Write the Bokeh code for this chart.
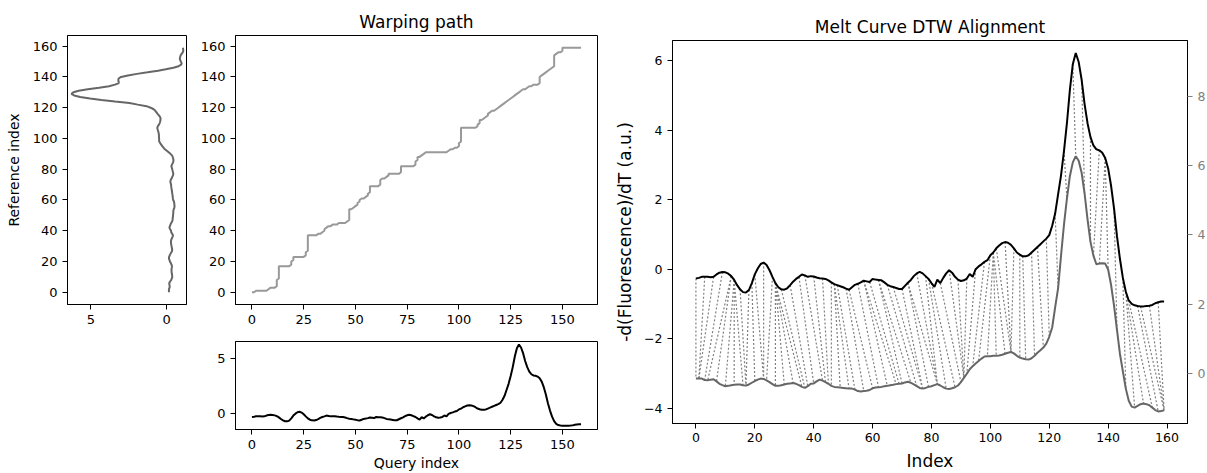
from bokeh.plotting import figure
from bokeh.layouts import row, column
from bokeh.models import Range1d, LinearAxis, FixedTicker, CustomJSTickFormatter, Spacer
from bokeh.embed import file_html
from bokeh.resources import INLINE

# ---------------- data ----------------
query = [
    -0.27, -0.25, -0.22, -0.22, -0.22, -0.23, -0.22, -0.15, -0.10, -0.08,
    -0.09, -0.13, -0.20, -0.31, -0.46, -0.58, -0.66, -0.67, -0.60, -0.40,
    -0.15, 0.02, 0.15, 0.19, 0.12, -0.03, -0.22, -0.40, -0.52, -0.58,
    -0.59, -0.55, -0.46, -0.36, -0.28, -0.22, -0.15, -0.18, -0.22, -0.20,
    -0.21, -0.24, -0.26, -0.27, -0.28, -0.32, -0.38, -0.43, -0.46, -0.49,
    -0.52, -0.56, -0.59, -0.52, -0.45, -0.42, -0.38, -0.33, -0.35, -0.37,
    -0.28, -0.30, -0.31, -0.32, -0.38, -0.45, -0.49, -0.51, -0.54, -0.57,
    -0.57, -0.48, -0.39, -0.31, -0.20, -0.12, -0.08, -0.12, -0.20, -0.28,
    -0.40, -0.51, -0.30, -0.40, -0.25, -0.12, -0.03, -0.10, -0.22, -0.30,
    -0.34, -0.32, -0.27, -0.14, -0.22, 0.00, 0.08, 0.14, 0.21, 0.26,
    0.40, 0.48, 0.60, 0.68, 0.75, 0.78, 0.76, 0.70, 0.60, 0.48,
    0.42, 0.37, 0.37, 0.40, 0.48, 0.56, 0.64, 0.72, 0.80, 0.88,
    0.98, 1.25, 1.60, 2.15, 2.70, 3.40, 4.20, 5.15, 5.90, 6.22,
    5.96, 5.45, 4.75, 4.20, 3.80, 3.56, 3.45, 3.42, 3.35, 3.20,
    2.90, 2.40, 1.75, 0.95, 0.30, -0.25, -0.65, -0.90, -1.00, -1.04,
    -1.06, -1.07, -1.07, -1.06, -1.05, -1.03, -0.98, -0.95, -0.93, -0.93,
]

reference = [
    -0.16, -0.16, -0.16, -0.20, -0.21, -0.19, -0.18, -0.24, -0.31, -0.35,
    -0.38, -0.37, -0.35, -0.34, -0.33, -0.33, -0.35, -0.36, -0.33, -0.28,
    -0.23, -0.19, -0.16, -0.17, -0.21, -0.26, -0.32, -0.37, -0.37, -0.35,
    -0.33, -0.31, -0.30, -0.29, -0.31, -0.35, -0.40, -0.43, -0.38, -0.31,
    -0.30, -0.24, -0.19, -0.22, -0.26, -0.31, -0.37, -0.40, -0.41, -0.42,
    -0.43, -0.44, -0.45, -0.45, -0.48, -0.52, -0.53, -0.52, -0.51, -0.49,
    -0.44, -0.42, -0.41, -0.40, -0.38, -0.37, -0.35, -0.34, -0.32, -0.31,
    -0.30, -0.27, -0.25, -0.28, -0.33, -0.38, -0.43, -0.45, -0.43, -0.40,
    -0.38, -0.35, -0.32, -0.36, -0.41, -0.45, -0.46, -0.44, -0.41, -0.36,
    -0.26, -0.14, -0.02, 0.11, 0.20, 0.28, 0.35, 0.42, 0.48, 0.49,
    0.49, 0.50, 0.50, 0.51, 0.53, 0.56, 0.59, 0.61, 0.57, 0.50,
    0.45, 0.42, 0.40, 0.39, 0.43, 0.50, 0.59, 0.66, 0.74, 0.85,
    1.05, 1.32, 1.90, 2.45, 3.40, 4.30, 5.05, 5.70, 6.10, 6.28,
    6.15, 5.80, 5.20, 4.45, 3.80, 3.40, 3.15, 3.17, 3.18, 3.17,
    3.00, 2.55, 1.95, 1.25, 0.56, 0.05, -0.45, -0.80, -0.97, -1.00,
    -0.95, -0.90, -0.88, -0.90, -0.93, -1.00, -1.07, -1.11, -1.10, -1.08,
]

# warping path: (query index, reference index)
warping_path = [
    (0, 0), (1, 0), (2, 1), (3, 1), (4, 1), (5, 1), (6, 1), (7, 1), (8, 2), (9, 3),
    (10, 3), (11, 3), (12, 4), (12, 5), (12, 6), (12, 7), (12, 8), (13, 9), (13, 10),
    (13, 11), (13, 12), (13, 13), (13, 14), (13, 15), (13, 16), (13, 17), (14, 17),
    (15, 17), (16, 17), (17, 17), (18, 17), (19, 18), (19, 19), (19, 20), (20, 21),
    (20, 22), (20, 23), (21, 23), (22, 23), (23, 23), (24, 23), (25, 23), (26, 24),
    (26, 25), (26, 26), (27, 27), (27, 28), (27, 29), (27, 30), (27, 31), (27, 32),
    (27, 33), (27, 34), (27, 35), (27, 36), (27, 37), (28, 37), (29, 37), (30, 37),
    (31, 37), (32, 38), (33, 38), (34, 39), (35, 40), (35, 41), (36, 42), (37, 43),
    (38, 43), (39, 44), (40, 44), (41, 44), (42, 45), (43, 45), (44, 45), (45, 45),
    (46, 46), (47, 47), (47, 48), (47, 49), (47, 50), (47, 51), (47, 52), (47, 53),
    (47, 54), (48, 54), (49, 55), (50, 56), (51, 57), (51, 58), (52, 59), (52, 60),
    (53, 61), (54, 61), (55, 62), (56, 63), (56, 64), (57, 65), (57, 66), (57, 67),
    (57, 68), (57, 69), (58, 69), (59, 69), (60, 69), (61, 69), (62, 70), (62, 71),
    (62, 72), (62, 73), (63, 74), (64, 74), (65, 75), (66, 76), (66, 77), (67, 77),
    (68, 77), (69, 77), (70, 77), (71, 77), (72, 78), (72, 79), (72, 80), (72, 81),
    (72, 82), (73, 82), (74, 82), (75, 82), (76, 82), (77, 82), (78, 82), (79, 83),
    (79, 84), (79, 85), (80, 86), (80, 87), (80, 88), (81, 88), (82, 89), (83, 90),
    (84, 91), (85, 91), (86, 91), (87, 91), (88, 91), (89, 91), (90, 91), (91, 91),
    (92, 91), (93, 91), (94, 91), (95, 92), (96, 93), (97, 93), (98, 94), (99, 94),
    (100, 95), (100, 96), (100, 97), (101, 98), (101, 99), (101, 100), (101, 101),
    (101, 102), (101, 103), (101, 104), (101, 105), (101, 106), (101, 107), (102, 107),
    (103, 107), (104, 107), (105, 107), (106, 107), (107, 107), (108, 107), (109, 108),
    (109, 109), (110, 110), (110, 111), (110, 112), (111, 112), (112, 113), (113, 114),
    (114, 115), (114, 116), (115, 117), (116, 118), (117, 118), (118, 119), (119, 120),
    (120, 121), (121, 122), (122, 123), (123, 124), (124, 125), (125, 126), (126, 127),
    (127, 128), (128, 129), (129, 130), (130, 131), (131, 132), (132, 132), (133, 133),
    (134, 134), (135, 134), (136, 135), (137, 135), (138, 135), (139, 136), (139, 137),
    (139, 138), (139, 139), (139, 140), (140, 141), (141, 142), (142, 143), (143, 144),
    (144, 145), (145, 146), (146, 147), (146, 148), (146, 149), (146, 150), (146, 151),
    (146, 152), (146, 153), (146, 154), (147, 155), (148, 156), (149, 156), (150, 157),
    (150, 158), (150, 159), (151, 159), (152, 159), (153, 159), (154, 159), (155, 159),
    (156, 159), (157, 159), (158, 159), (159, 159),
]

index_ticks = [0, 25, 50, 75, 100, 125, 150]
ref_index_ticks = [0, 20, 40, 60, 80, 100, 120, 140, 160]
ref_value_ticks = [5, 0]
query_value_ticks = [0, 5]
melt_x_ticks = [0, 20, 40, 60, 80, 100, 120, 140, 160]
melt_left_ticks = [-4, -2, 0, 2, 4, 6]
melt_right_ticks = [0, 2, 4, 6, 8]

# ---------------- style ----------------
FONT = "DejaVu Sans"
MINUS = CustomJSTickFormatter(code="return (tick < 0 ? '\\u2212' : '') + Math.abs(tick).toString();")

n = len(query)
idx = list(range(n))
path_q = [p[0] for p in warping_path]
path_r = [p[1] for p in warping_path]


def style(p, tick_size="13px"):
    p.outline_line_color = "black"
    p.outline_line_width = 1
    p.outline_line_alpha = 1
    p.xgrid.visible = False
    p.ygrid.visible = False
    p.background_fill_color = "white"
    p.border_fill_color = "white"
    for ax in p.axis:
        ax.major_tick_in = 0
        ax.major_tick_out = 5
        ax.minor_tick_line_color = None
        ax.major_label_standoff = 5
        ax.axis_line_color = "black"
        ax.major_tick_line_color = "black"
        ax.major_label_text_font = FONT
        ax.major_label_text_font_size = tick_size
        ax.major_label_text_color = "black"
        ax.axis_label_text_font = FONT
        ax.axis_label_text_font_style = "normal"
        ax.axis_label_text_color = "black"
        ax.formatter = MINUS


def style_title(p):
    p.title.align = "center"
    p.title.text_font = FONT
    p.title.text_font_size = "17px"
    p.title.text_font_style = "normal"
    p.title.text_color = "black"
    p.title.standoff = 8


xr = Range1d(-7.95, 166.95)
yr_idx = Range1d(-7.95, 166.95)

# reference (rotated) panel
p_ref = figure(frame_width=119, frame_height=269, x_range=Range1d(6.54, -1.32), y_range=yr_idx,
               min_border_left=67, min_border_right=8, min_border_top=35, min_border_bottom=25,
               output_backend="svg", toolbar_location=None)
p_ref.line(reference, idx, line_color="#666666", line_width=2)
style(p_ref)
p_ref.xaxis.ticker = FixedTicker(ticks=ref_value_ticks)
p_ref.yaxis.ticker = FixedTicker(ticks=ref_index_ticks)
p_ref.yaxis.axis_label = "Reference index"
p_ref.yaxis.axis_label_text_font_size = "14px"
p_ref.yaxis.axis_label_standoff = 8

# warping path panel
p_path = figure(frame_width=362, frame_height=269, x_range=xr, y_range=yr_idx,
                min_border_left=41, min_border_right=10, min_border_top=35, min_border_bottom=25,
                title="Warping path", output_backend="svg", toolbar_location=None)
p_path.line(path_q, path_r, line_color="#999999", line_width=2)
style(p_path)
style_title(p_path)
p_path.xaxis.ticker = FixedTicker(ticks=index_ticks)
p_path.yaxis.ticker = FixedTicker(ticks=ref_index_ticks)

# query panel
p_q = figure(frame_width=362, frame_height=88, x_range=xr, y_range=Range1d(-1.4, 6.5),
             min_border_left=41, min_border_right=10, min_border_top=12, min_border_bottom=44,
             output_backend="svg", toolbar_location=None)
p_q.line(idx, query, line_color="black", line_width=2)
style(p_q)
p_q.xaxis.ticker = FixedTicker(ticks=index_ticks)
p_q.yaxis.ticker = FixedTicker(ticks=query_value_ticks)
p_q.xaxis.axis_label = "Query index"
p_q.xaxis.axis_label_text_font_size = "14px"
p_q.xaxis.axis_label_standoff = 3

# melt curve alignment panel
L0, L1 = -4.44, 6.58
R0, R1 = -1.46, 9.63
p_m = figure(frame_width=515, frame_height=383, x_range=Range1d(-7.95, 166.95), y_range=Range1d(L0, L1),
             min_border_left=65, min_border_right=20, min_border_top=40, min_border_bottom=50,
             title="Melt Curve DTW Alignment", output_backend="svg", toolbar_location=None)
p_m.extra_y_ranges = {"right": Range1d(R0, R1)}
right_axis = LinearAxis(y_range_name="right")
p_m.add_layout(right_axis, "right")


def to_left(v):
    return L0 + (v - R0) * (L1 - L0) / (R1 - R0)


sel = warping_path[::3]
p_m.segment(x0=[a for a, b in sel], y0=[query[a] for a, b in sel],
            x1=[b for a, b in sel], y1=[to_left(reference[b]) for a, b in sel],
            line_color="#808080", line_width=1.2, line_dash="2 2")
p_m.line(idx, query, line_color="black", line_width=2)
p_m.line(idx, reference, line_color="#666666", line_width=2, y_range_name="right")
style(p_m, tick_size="12.5px")
style_title(p_m)
p_m.title.standoff = 7
p_m.xaxis.ticker = FixedTicker(ticks=melt_x_ticks)
p_m.xaxis.major_label_standoff = 4
p_m.yaxis[0].ticker = FixedTicker(ticks=melt_left_ticks)
right_axis.ticker = FixedTicker(ticks=melt_right_ticks)
right_axis.major_label_text_color = "#808080"
right_axis.major_tick_line_color = "#808080"
p_m.xaxis.axis_label = "Index"
p_m.xaxis.axis_label_text_font_size = "17px"
p_m.xaxis.axis_label_standoff = 6
p_m.yaxis[0].axis_label = "-d(Fluorescence)/dT (a.u.)"
p_m.yaxis[0].axis_label_text_font_size = "17px"
p_m.yaxis[0].axis_label_standoff = 6

left_group = column(row(p_ref, p_path), row(Spacer(width=194, height=144), p_q))
layout = row(left_group, p_m)

open("out.html", "w").write(file_html(layout, INLINE))
